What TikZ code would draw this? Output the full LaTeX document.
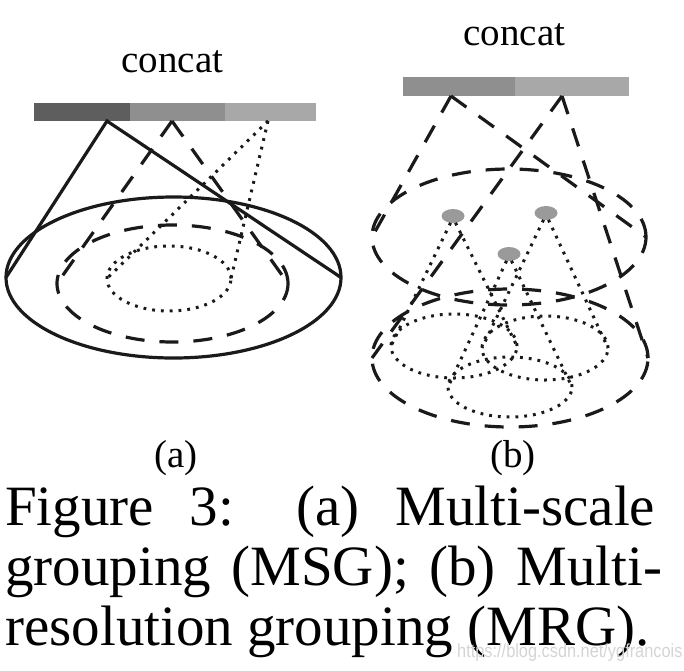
\documentclass[tikz,border=0pt]{standalone}
\usepackage{fontspec}
\setmainfont{Liberation Serif}
\newfontfamily\wmfont{Liberation Sans}
\usetikzlibrary{shapes.geometric}
\definecolor{bardark}{HTML}{5E5E5E}
\definecolor{barmid}{HTML}{8F8F8F}
\definecolor{barlight}{HTML}{A8A8A8}
\definecolor{dotgray}{HTML}{9A9A9A}
\definecolor{wmgray}{HTML}{D4D4D4}
\definecolor{ink}{HTML}{1A1A1A}
\begin{document}
\begin{tikzpicture}[x=1pt,y=-1pt,
  seg/.style={rectangle,inner sep=0pt,outer sep=0pt,draw=none,minimum height=18pt},
  ring/.style={ellipse,inner sep=0pt,outer sep=0pt},
  blob/.style={ellipse,inner sep=0pt,outer sep=0pt,fill=dotgray,draw=none,minimum width=23pt,minimum height=14pt},
  solidline/.style={draw=ink,line width=3.2pt},
  dashline/.style={draw=ink,line width=3.2pt,dash pattern=on 19pt off 15pt},
  dotline/.style={draw=ink,line width=3pt,dash pattern=on 2.8pt off 6pt},
  lbl/.style={inner sep=0pt,anchor=base,font=\fontsize{39}{40}\selectfont},
  captext/.style={inner sep=0pt,anchor=base west,font=\fontsize{57}{60}\selectfont}]
\useasboundingbox (0,0) rectangle (684,670);

% ---------- (a) ----------
\node[seg,fill=bardark,minimum width=96pt] (a1) at (82,112) {};
\node[seg,fill=barmid,minimum width=95pt] (a2) at (177.5,112) {};
\node[seg,fill=barlight,minimum width=91pt] (a3) at (270.5,112) {};
\node[lbl] (ca) at (172.5,72) {concat};

\node[ring,solidline,minimum width=335pt,minimum height=161pt] (eS) at (173.5,277.5) {};
\node[ring,dashline,minimum width=231pt,minimum height=117pt] (eD) at (172.5,283.5) {};
\node[ring,dotline,minimum width=124pt,minimum height=65pt] (eT) at (169,278.5) {};

\coordinate (pS) at (107,121);
\coordinate (pD) at (172,121);
\coordinate (pT) at (268,121);
\draw[solidline] (eS.west) -- (pS) -- (eS.east);
\draw[dashline] (pD) -- (eD.west);
\draw[dashline] (pD) -- (eD.east);
\draw[dotline] (pT) -- (eT.west);
\draw[dotline] (pT) -- (eT.east);

\node[lbl] (la) at (176,467) {(a)};

% ---------- (b) ----------
\node[seg,fill=barmid,minimum width=112pt,minimum height=19pt] (b1) at (459,86.5) {};
\node[seg,fill=barlight,minimum width=114pt,minimum height=19pt] (b2) at (572,86.5) {};
\node[lbl] (cb) at (514.5,45) {concat};

\node[ring,dashline,minimum width=274pt,minimum height=136pt] (U) at (509,237) {};
\node[ring,dashline,minimum width=276pt,minimum height=138pt] (L) at (510,358) {};
\coordinate (p1) at (451,96);
\coordinate (p2) at (562,96);
\draw[dashline] (p1) -- (U.west);
\draw[dashline] (p1) -- (U.east);
\draw[dashline] (p2) -- (L.west);
\draw[dashline] (p2) -- (L.east);

\node[ring,dotline,minimum width=126pt,minimum height=64pt] (A) at (454,346) {};
\node[ring,dotline,minimum width=126pt,minimum height=64pt] (B) at (545,348) {};
\node[ring,dotline,minimum width=124pt,minimum height=60pt] (C) at (510,387) {};

\node[blob] (d1) at (453,216) {};
\node[blob] (d2) at (546,213) {};
\node[blob] (d3) at (509,254) {};
\draw[dotline] (d1.250) -- (A.west);
\draw[dotline] (d1.290) -- (A.east);
\draw[dotline] (d2.250) -- (B.west);
\draw[dotline] (d2.290) -- (B.east);
\draw[dotline] (d3.250) -- (C.west);
\draw[dotline] (d3.290) -- (C.east);

\node[lbl] (lb) at (513,467) {(b)};

% ---------- caption ----------
\node[captext] (c1) at (5,525) {\makebox[650pt][s]{Figure 3: (a) Multi-scale}};
\node[captext] (c2) at (5,585) {\makebox[657pt][s]{grouping (MSG); (b) Multi-}};
\node[captext] (c3) at (5,645) {resolution grouping (MRG).};

\node[inner sep=0pt,anchor=base west,text=wmgray,font=\wmfont\fontsize{19}{20}\selectfont] (wm) at (457,657) {\scalebox{0.86}[1]{https://blog.csdn.net/ygfrancois}};
\end{tikzpicture}
\end{document}
